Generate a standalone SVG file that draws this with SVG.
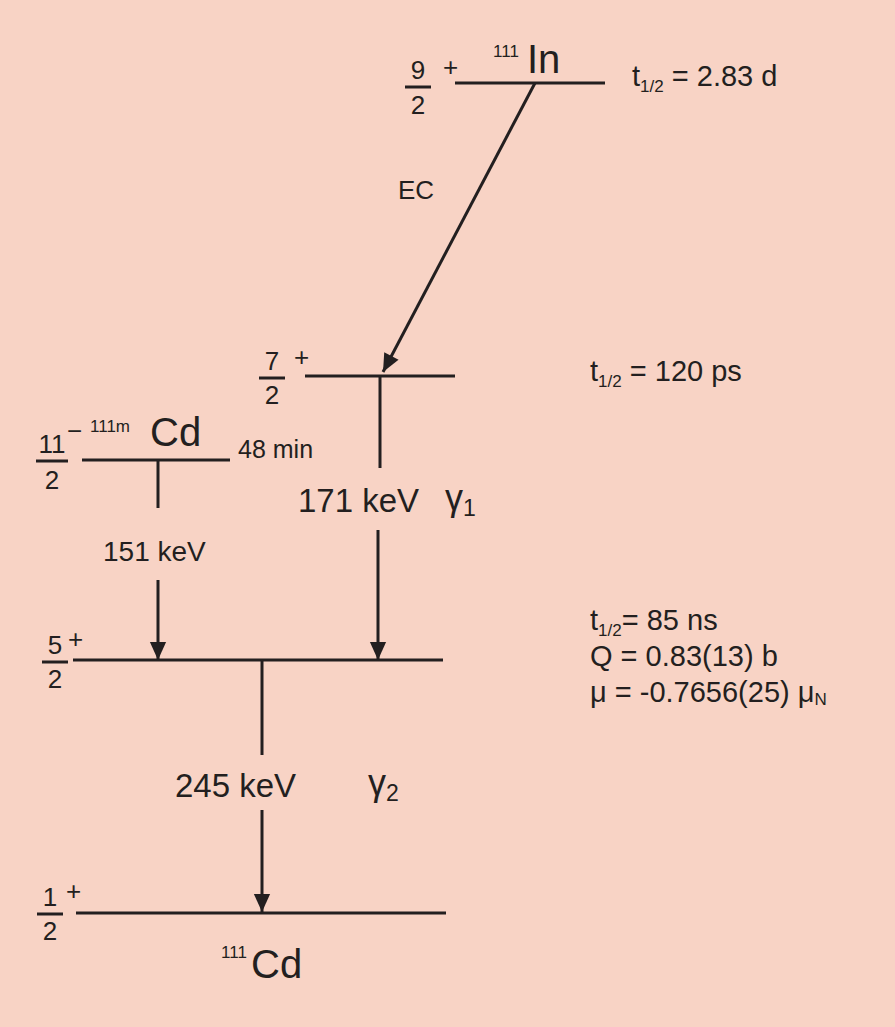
<svg xmlns="http://www.w3.org/2000/svg" width="895" height="1027" viewBox="0 0 895 1027">
<style>
text{font-family:"Liberation Sans",Arial,sans-serif;fill:#231f20}
.l{stroke:#231f20;stroke-width:3;fill:none}
.big{font-size:40px}.m{font-size:29px}.k{font-size:33px}.s{font-size:17px}.f{font-size:26px}
</style>
<defs><marker id="a" viewBox="0 0 10 10" refX="10" refY="5" markerWidth="8" markerHeight="6" orient="auto" markerUnits="strokeWidth"><path d="M0,0.5 L10,5 L0,9.5 Z" fill="#231f20"/></marker></defs>
<rect width="895" height="1027" fill="#f8d3c5"/>
<g id="In111">
<line class="l" x1="455" y1="83" x2="605" y2="83"/>
<text class="f" x="418" y="79" text-anchor="middle">9</text><line class="l" x1="405" y1="87" x2="431" y2="87" stroke-width="2"/><text class="f" x="418" y="114" text-anchor="middle">2</text>
<text class="f" x="443" y="76">+</text>
<text class="s" x="493" y="57" font-size="21">111</text><text class="big" x="527" y="73">In</text>
<text class="m" x="632" y="86">t<tspan class="s" dy="6">1/2</tspan><tspan dy="-6"> = 2.83 d</tspan></text>
</g>
<g id="lvl72">
<line class="l" x1="305" y1="376" x2="455" y2="376"/>
<text class="f" x="272" y="370" text-anchor="middle">7</text><line class="l" x1="259" y1="378" x2="285" y2="378" stroke-width="2"/><text class="f" x="272" y="404" text-anchor="middle">2</text>
<text class="f" x="294" y="366">+</text>
<text class="m" x="590" y="381">t<tspan class="s" dy="6">1/2</tspan><tspan dy="-6"> = 120 ps</tspan></text>
</g>
<g id="Cd111m">
<line class="l" x1="82" y1="460" x2="230" y2="460"/>
<text class="f" x="52" y="453" text-anchor="middle">11</text><line class="l" x1="36" y1="461" x2="68" y2="461" stroke-width="2"/><text class="f" x="52" y="489" text-anchor="middle">2</text>
<text class="f" x="67" y="440">−</text>
<text class="s" x="90" y="432" font-size="20">111m</text><text class="big" x="150" y="446">Cd</text>
<text x="238" y="458" font-size="25">48 min</text>
</g>
<g id="lvl52">
<line class="l" x1="73" y1="660" x2="443" y2="660"/>
<text class="f" x="55" y="654" text-anchor="middle">5</text><line class="l" x1="42" y1="662" x2="68" y2="662" stroke-width="2"/><text class="f" x="55" y="688" text-anchor="middle">2</text>
<text class="f" x="68" y="648">+</text>
<text class="m" x="590" y="630">t<tspan class="s" dy="6">1/2</tspan><tspan dy="-6">=  85 ns</tspan></text>
<text class="m" x="590" y="666">Q =  0.83(13) b</text>
<text class="m" x="590" y="702">μ  = -0.7656(25) μ<tspan class="s" dy="3">N</tspan></text>
</g>
<g id="Cd111">
<line class="l" x1="76" y1="913" x2="446" y2="913"/>
<text class="f" x="50" y="906" text-anchor="middle">1</text><line class="l" x1="37" y1="914" x2="63" y2="914" stroke-width="2"/><text class="f" x="50" y="940" text-anchor="middle">2</text>
<text class="f" x="66" y="900">+</text>
<text class="s" x="221" y="958" font-size="21">111</text><text class="big" x="251" y="978">Cd</text>
</g>
<g id="connectors">
<line class="l" x1="535" y1="83" x2="383" y2="372" marker-end="url(#a)"/>
<text class="f" x="398" y="199">EC</text>
<line class="l" x1="380" y1="376" x2="380" y2="468"/>
<line class="l" x1="378" y1="530" x2="378" y2="660" marker-end="url(#a)"/>
<text class="k" x="298" y="512">171 keV</text>
<text x="445" y="510" font-size="36">γ<tspan font-size="23" dy="6">1</tspan></text>
<line class="l" x1="158" y1="460" x2="158" y2="508"/>
<line class="l" x1="158" y1="580" x2="158" y2="660" marker-end="url(#a)"/>
<text x="103" y="561" font-size="28">151 keV</text>
<line class="l" x1="262" y1="660" x2="262" y2="755"/>
<line class="l" x1="262" y1="810" x2="262" y2="912" marker-end="url(#a)"/>
<text class="k" x="175" y="797">245 keV</text>
<text x="368" y="795" font-size="36">γ<tspan font-size="23" dy="6">2</tspan></text>
</g>
</svg>
